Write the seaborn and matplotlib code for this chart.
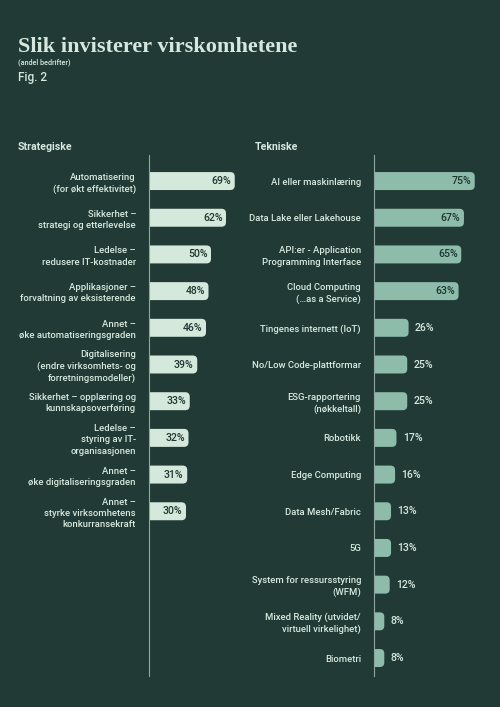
import matplotlib
matplotlib.use("Agg")
import matplotlib.pyplot as plt
from matplotlib.patches import FancyBboxPatch
import seaborn as sns
import pandas as pd

strat_labels = [
    "Automatisering\n(for økt effektivitet)",
    "Sikkerhet –\nstrategi og etterlevelse",
    "Ledelse –\nredusere IT-kostnader",
    "Applikasjoner –\nforvaltning av eksisterende",
    "Annet –\nøke automatiseringsgraden",
    "Digitalisering\n(endre virksomhets- og\nforretningsmodeller)",
    "Sikkerhet – opplæring og\nkunnskapsoverføring",
    "Ledelse –\nstyring av IT-\norganisasjonen",
    "Annet –\nøke digitaliseringsgraden",
    "Annet –\nstyrke virksomhetens\nkonkurransekraft",
]
strat_vals = [69, 62, 50, 48, 46, 39, 33, 32, 31, 30]

tech_labels = [
    "AI eller maskinlæring",
    "Data Lake eller Lakehouse",
    "API:er - Application\nProgramming Interface",
    "Cloud Computing\n(…as a Service)",
    "Tingenes internett (IoT)",
    "No/Low Code-plattformar",
    "ESG-rapportering\n(nøkkeltall)",
    "Robotikk",
    "Edge Computing",
    "Data Mesh/Fabric",
    "5G",
    "System for ressursstyring\n(WFM)",
    "Mixed Reality (utvidet/\nvirtuell virkelighet)",
    "Biometri",
]
tech_vals = [75, 67, 65, 63, 26, 25, 25, 17, 16, 13, 13, 12, 8, 8]

BG = "#213a35"
TXT = "#d6e8dd"
DARK = "#1f3631"
LEFT_BAR = "#d4e8dc"
RIGHT_BAR = "#8dbcab"
LINE = "#8ea89f"

W, H = 500, 707
ROW = 36.7  # px between rows


def px_rect(x0, y0, x1, y1):
    return [x0 / W, 1 - y1 / H, (x1 - x0) / W, (y1 - y0) / H]


sns.set_style("white")
plt.rcParams["font.family"] = ["Roboto", "DejaVu Sans"]

fig = plt.figure(figsize=(W / 100, H / 100), dpi=100)
fig.patch.set_facecolor(BG)


def draw_panel(rect, labels, vals, bar_color, px_per_unit, inside_min):
    ax = fig.add_axes(rect)
    ax.set_facecolor(BG)
    df = pd.DataFrame({"label": labels, "value": vals})
    sns.barplot(data=df, x="value", y="label", color=bar_color, width=0.49,
                orient="h", ax=ax, saturation=1)
    width_px = rect[2] * W
    ax.set_xlim(0, width_px / px_per_unit)
    ax.set_ylim(13.49, -0.71)

    # rounded right ends
    r = 4.5 / px_per_unit
    asp = px_per_unit / ROW
    for p in list(ax.patches):
        x, y, w, h = p.get_x(), p.get_y(), p.get_width(), p.get_height()
        p.remove()
        ax.add_patch(FancyBboxPatch((x - 2 * r, y), w + 2 * r, h,
                                    boxstyle=f"round,pad=0,rounding_size={r}",
                                    mutation_aspect=asp, fc=bar_color, ec="none"))

    for i, v in enumerate(vals):
        if v >= inside_min:
            ax.text(v - 3.5 / px_per_unit, i, f"{v}%", ha="right", va="center",
                    color=DARK, fontsize=7.6, fontweight="medium")
        else:
            ax.text(v + 6.5 / px_per_unit, i, f"{v}%", ha="left", va="center",
                    color=TXT, fontsize=7.6, fontweight="medium")

    for s in ["top", "right", "bottom"]:
        ax.spines[s].set_visible(False)
    ax.spines["left"].set_color(LINE)
    ax.spines["left"].set_linewidth(0.8)
    ax.set_xticks([])
    ax.set_xlabel("")
    ax.set_ylabel("")
    ax.tick_params(axis="y", length=0, pad=9, labelsize=6.8, labelcolor=TXT)
    for t in ax.get_yticklabels():
        t.set_fontweight("medium")
        t.set_linespacing(1.3)
    return ax


draw_panel(px_rect(148.5, 155, 275, 676), strat_labels, strat_vals, LEFT_BAR, 1.25, 0)
draw_panel(px_rect(373.5, 155, 500, 676), tech_labels, tech_vals, RIGHT_BAR, 1.35, 30)

fig.text(18 / W, 1 - 52 / H, "Slik invisterer virskomhetene", color=TXT,
         fontsize=16, fontweight="bold", family=["Liberation Serif"], va="baseline")
fig.text(18 / W, 1 - 62.5 / H, "(andel bedrifter)", color=TXT, fontsize=5.2,
         va="center", fontweight="medium")
fig.text(18 / W, 1 - 77 / H, "Fig. 2", color=TXT, fontsize=8.5, va="center",
         fontweight="medium")
fig.text(18 / W, 1 - 147 / H, "Strategiske", color=TXT, fontsize=7.6,
         fontweight="bold", va="center")
fig.text(255 / W, 1 - 147 / H, "Tekniske", color=TXT, fontsize=7.6,
         fontweight="bold", va="center")

fig.savefig("out.png", dpi=100, facecolor=BG)
